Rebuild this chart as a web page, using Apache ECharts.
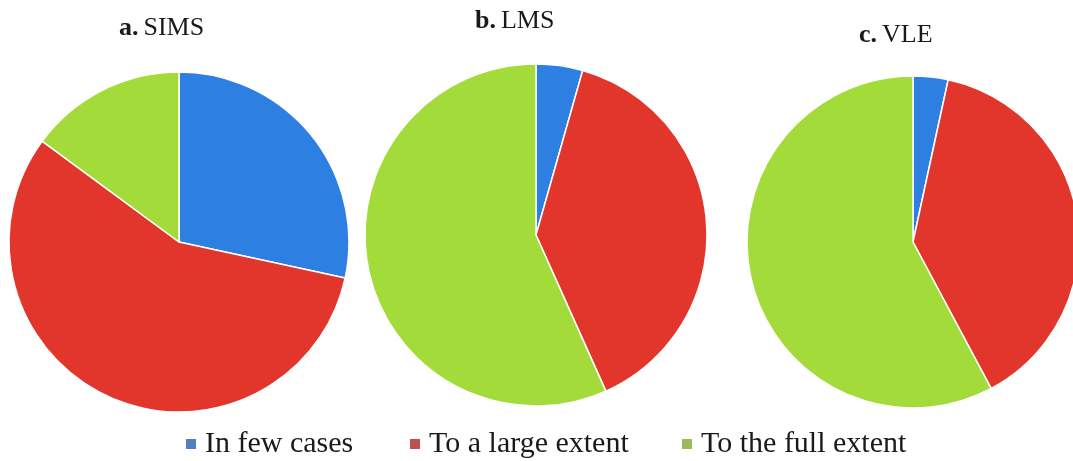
<!DOCTYPE html>
<html>
<head>
<meta charset="utf-8">
<script src="https://cdn.jsdelivr.net/npm/echarts@6/dist/echarts.min.js"></script>
<style>
  html, body { margin: 0; padding: 0; background: #ffffff; }
  #chart { width: 1073px; height: 461px; }
</style>
</head>
<body>
<div id="chart"></div>
<script>
// Response categories shared by the three pies
const categories = ['In few cases', 'To a large extent', 'To the full extent'];

// Share of responses (%) per system
const simsValues = [28.4, 56.7, 14.9];
const lmsValues = [4.4, 38.9, 56.7];
const vleValues = [3.4, 38.8, 57.8];

// Panel captions: letter + system name
const panelLetters = ['a.', 'b.', 'c.'];
const panelNames = ['SIMS', 'LMS', 'VLE'];

const sliceColors = ['#2e7fe2', '#e2352c', '#a3dc3a'];
const legendColors = ['#4f81bd', '#c0504d', '#9bbb59'];

const serif = '"Liberation Serif", "DejaVu Serif", serif';

const panels = [
  { values: simsValues, center: [179, 242], radius: 170, titleLeft: 119, titleTop: 15 },
  { values: lmsValues, center: [536, 235], radius: 171, titleLeft: 475, titleTop: 8 },
  { values: vleValues, center: [913, 242], radius: 166, titleLeft: 859, titleTop: 22 }
];

const legendLefts = [184, 408, 680];

const chart = echarts.init(document.getElementById('chart'), null, { renderer: 'canvas' });

chart.setOption({
  backgroundColor: '#ffffff',
  animation: false,
  title: panels.map((p, i) => ({
    text: '{b|' + panelLetters[i] + '} {r|' + panelNames[i] + '}',
    left: p.titleLeft,
    top: p.titleTop,
    padding: 0,
    textStyle: {
      rich: {
        b: { fontFamily: serif, fontSize: 26, fontWeight: 'bold', color: '#1a1a1a' },
        r: { fontFamily: serif, fontSize: 26, fontWeight: 'normal', color: '#1a1a1a' }
      }
    }
  })),
  legend: categories.map((name, i) => ({
    data: [{ name: name, itemStyle: { color: legendColors[i] } }],
    left: legendLefts[i],
    top: 429,
    padding: 0,
    icon: 'rect',
    itemWidth: 12,
    itemHeight: 12,
    selectedMode: false,
    textStyle: { fontFamily: serif, fontSize: 30, color: '#1a1a1a', padding: [0, 0, 0, 3] }
  })),
  series: panels.map((p, i) => ({
    type: 'pie',
    name: panelNames[i],
    center: p.center,
    radius: [0, p.radius],
    startAngle: 90,
    clockwise: true,
    silent: true,
    label: { show: false },
    labelLine: { show: false },
    itemStyle: { borderColor: '#ffffff', borderWidth: 1.5 },
    data: categories.map((name, k) => ({
      name: name,
      value: p.values[k],
      itemStyle: { color: sliceColors[k] }
    }))
  }))
});
</script>
</body>
</html>
